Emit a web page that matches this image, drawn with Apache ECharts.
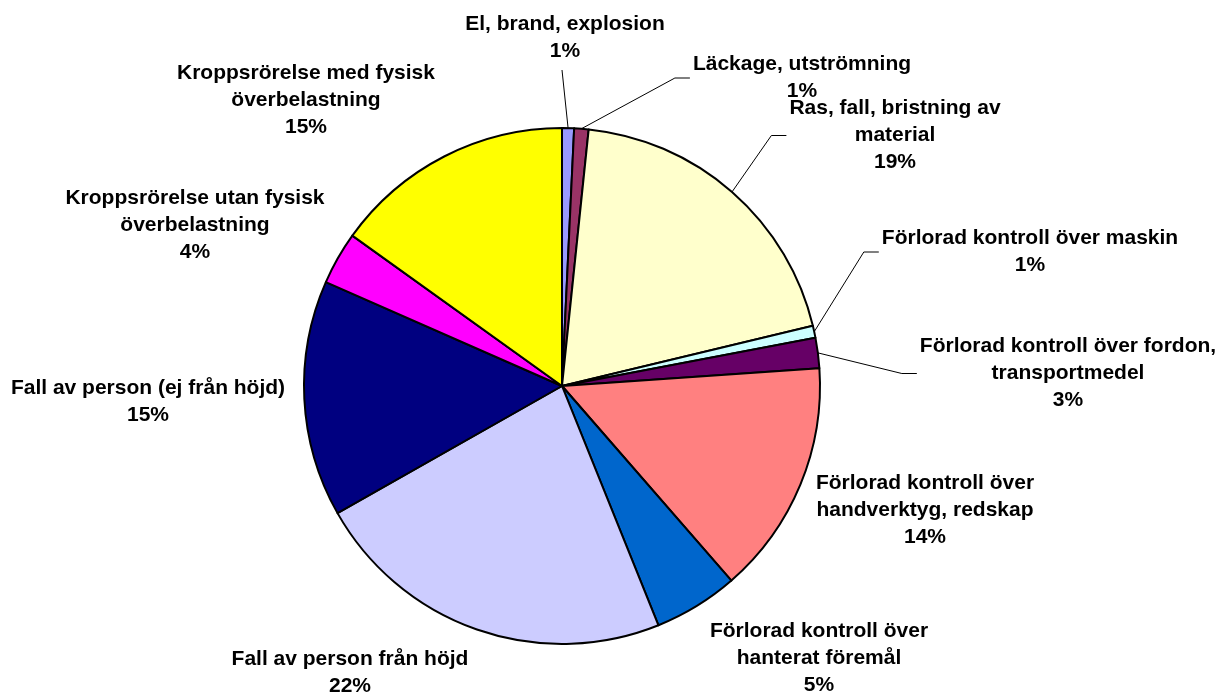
<!DOCTYPE html>
<html>
<head>
<meta charset="utf-8">
<style>
  html, body { margin: 0; background: #fff; }
  #chart { width: 1227px; height: 697px; }
</style>
<script src="https://cdn.jsdelivr.net/npm/echarts@6/dist/echarts.min.js"></script>
</head>
<body>
<div id="chart"></div>
<script>
const categories = [
  'El, brand, explosion',
  'Läckage, utströmning',
  'Ras, fall, bristning av\nmaterial',
  'Förlorad kontroll över maskin',
  'Förlorad kontroll över fordon,\ntransportmedel',
  'Förlorad kontroll över\nhandverktyg, redskap',
  'Förlorad kontroll över\nhanterat föremål',
  'Fall av person från höjd',
  'Fall av person (ej från höjd)',
  'Kroppsrörelse utan fysisk\növerbelastning',
  'Kroppsrörelse med fysisk\növerbelastning'
]
// slice sizes as drawn in the picture (share of circle, %)
const values = [0.75, 0.9, 19.6, 0.75, 1.9, 14.7, 5.3, 22.9, 14.8, 3.3, 15.1]
// percentages as printed in the labels
const pctLabels = ['1%', '1%', '19%', '1%', '3%', '14%', '5%', '22%', '15%', '4%', '15%']

const colors = ['#9999FF', '#993366', '#FFFFCC', '#CCFFFF', '#660066', '#FF8080',
  '#0066CC', '#CCCCFF', '#000080', '#FF00FF', '#FFFF00']

// label block placement: [centre x, top y]; leader: 'up' = line ends under the label,
// 'side' = elbow into the left edge of the label, null = no line
const labelPos = [[565, 11], [802, 51], [895, 95], [1030, 225], [1068, 333],
  [925, 470], [819, 618], [350, 646], [148, 375], [195, 185], [306, 60]]
const leader = ['up', 'side', 'side', 'side', 'side', null, null, null, null, null, null]

const chart = echarts.init(document.getElementById('chart'))

chart.setOption({
  animation: false,
  backgroundColor: '#fff',
  series: [{
    type: 'pie',
    center: [562, 386],
    radius: 258,
    startAngle: 90,
    clockwise: true,
    avoidLabelOverlap: false,
    emphasis: { disabled: true },
    itemStyle: { borderColor: '#000', borderWidth: 2 },
    label: {
      position: 'outside',
      color: '#000',
      fontFamily: 'Arial, "Liberation Sans", sans-serif',
      fontWeight: 'bold',
      fontSize: 21,
      lineHeight: 27,
      overflow: 'none',
      bleedMargin: 0,
      formatter: p => p.name + '\n' + pctLabels[p.dataIndex]
    },
    labelLine: { length: 10, length2: 10, lineStyle: { color: '#000', width: 1 } },
    labelLayout: p => {
      const [cx, top] = labelPos[p.dataIndex]
      const w = p.labelRect.width
      const h = p.labelRect.height
      const out = { x: cx, y: top, align: 'center', verticalAlign: 'top' }
      const pts = p.labelLinePoints
      const mode = leader[p.dataIndex]
      if (mode && pts) {
        const a = pts[0]
        if (mode === 'up') {
          out.labelLinePoints = [a, [cx - 3, top + h + 5]]
        } else {
          const ex = cx - w / 2 - 3
          const ey = top + h / 2
          out.labelLinePoints = [a, [ex - 15, ey], [ex, ey]]
        }
      }
      return out
    },
    data: categories.map((name, i) => ({
      name,
      value: values[i],
      itemStyle: { color: colors[i] },
      labelLine: { show: leader[i] !== null }
    }))
  }]
})
</script>
</body>
</html>
